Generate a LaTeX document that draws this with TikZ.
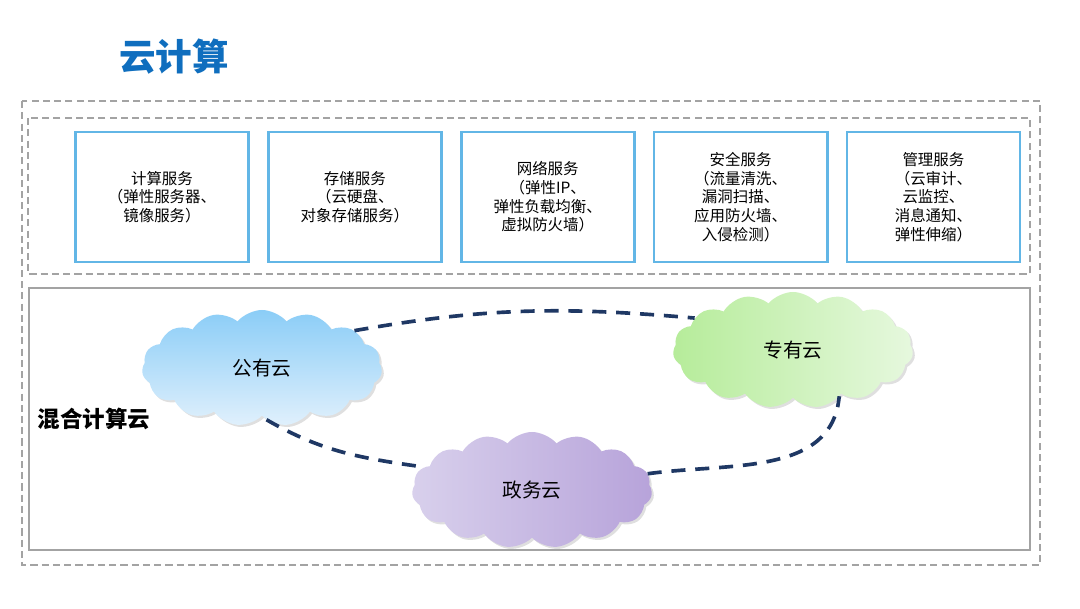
\documentclass[tikz,border=0pt]{standalone}
\usepackage{fontspec}
\setmainfont{Noto Sans CJK SC}
\usepackage{xcolor}
\usetikzlibrary{shapes.symbols,positioning,shadows}
\definecolor{titleblue}{HTML}{0F6EBE}
\definecolor{boxblue}{HTML}{62B6E6}
\definecolor{framegray}{HTML}{A3A3A3}
\definecolor{linknavy}{HTML}{1F3864}
\definecolor{pubtop}{HTML}{8BCDF7}
\definecolor{pubbot}{HTML}{E0F0FC}
\definecolor{privleft}{HTML}{B6EC9A}
\definecolor{privright}{HTML}{E6F8DE}
\definecolor{govleft}{HTML}{D8D0EC}
\definecolor{govright}{HTML}{B7A3DA}

\begin{document}
\begin{tikzpicture}[x=0.025cm,y=-0.025cm,
  svcbox/.style={rectangle,draw=boxblue,line width=2pt,minimum width=4.325cm,minimum height=3.25cm,align=center,font=\fontsize{11}{13.3}\selectfont},
  frame/.style={draw=framegray,line width=1pt,dash pattern=on 5pt off 3pt},
  cloudnode/.style={cloud,cloud puffs=15,cloud puff arc=100,aspect=2.1,minimum width=6cm,minimum height=2.9cm,font=\fontsize{14}{16}\selectfont,drop shadow={opacity=0.25,shadow xshift=1.5pt,shadow yshift=-1.5pt}},
  link/.style={draw=linknavy,line width=2.6pt,dash pattern=on 10pt off 7pt}
]
\useasboundingbox (0,0) rectangle (1080,608);
\node[text=titleblue,font=\fontsize{26}{30}\selectfont\bfseries] (title) at (174,57) {云计算};
% frames
\draw[frame] (22,101) rectangle (1040,565);
\draw[frame] (28,118) rectangle (1030,274);
\draw[draw=framegray,line width=1pt] (29,288) rectangle (1030,550);
% services
\node[svcbox] (calc) at (162,197) {计算服务\\（弹性服务器、\\镜像服务）};
\node[svcbox,right=0.425cm of calc] (store) {存储服务\\（云硬盘、\\对象存储服务）};
\node[svcbox,right=0.425cm of store] (net) {网络服务\\（弹性IP、\\弹性负载均衡、\\虚拟防火墙）};
\node[svcbox,right=0.425cm of net] (sec) {安全服务\\（流量清洗、\\漏洞扫描、\\应用防火墙、\\入侵检测）};
\node[svcbox,right=0.425cm of sec] (mgmt) {管理服务\\（云审计、\\云监控、\\消息通知、\\弹性伸缩）};
% hybrid cloud
\node[anchor=west,font=\fontsize{16}{18}\selectfont\bfseries] (hybrid) at (33,419) {混合计算云};
\node[cloudnode,top color=pubtop,bottom color=pubbot] (pub) at (262,368) {公有云};
\node[cloudnode,left color=privleft,right color=privright] (priv) at (793,350) {专有云};
\node[cloudnode,left color=govleft,right color=govright] (gov) at (532,490) {政务云};
\draw[link] (pub.22) to[out=10,in=175] (priv.162);
\draw[link] (pub.-85) to[out=-30,in=172] (gov.168);
\draw[link] (gov.8) to[out=8,in=-95] (priv.-45);
\end{tikzpicture}
\end{document}
